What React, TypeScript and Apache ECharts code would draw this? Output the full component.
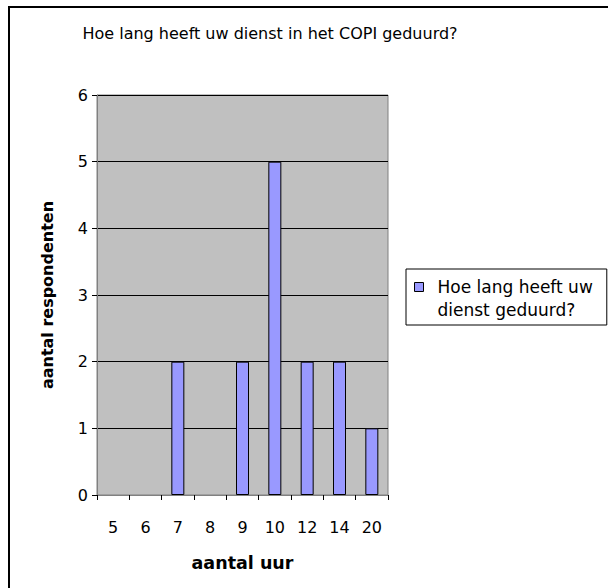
import React, { useEffect, useRef } from "react";
import * as echarts from "echarts";

const categories = ["5", "6", "7", "8", "9", "10", "12", "14", "20"];
const values = [0, 0, 2, 0, 2, 5, 2, 2, 1];
const seriesName = "Hoe lang heeft uw dienst geduurd?";
const titleText = "Hoe lang heeft uw dienst in het COPI geduurd?";
const xName = "aantal uur";
const yName = "aantal respondenten";

export default function App() {
  const ref = useRef<HTMLDivElement>(null);
  useEffect(() => {
    if (!ref.current) return;
    const chart = echarts.init(ref.current, undefined, { renderer: "svg" });
    const font = "DejaVu Sans, Liberation Sans, Arial, sans-serif";
    chart.setOption({
      animation: false,
      backgroundColor: "#fff",
      textStyle: { fontFamily: font },
      title: {
        text: titleText,
        left: 270,
        top: 25,
        padding: 0,
        textAlign: "center",
        textStyle: { fontSize: 16, fontWeight: "normal", color: "#000", fontFamily: font },
      },
      grid: {
        left: 97,
        top: 95,
        width: 291,
        height: 400,
        show: true,
        backgroundColor: "#C0C0C0",
        borderColor: "#808080",
        borderWidth: 1,
      },
      legend: {
        left: 406,
        top: 269,
        orient: "vertical",
        borderColor: "#000",
        borderWidth: 1,
        padding: [6, 14, 3, 8],
        itemWidth: 9,
        itemHeight: 46,
        icon: "path://M0,7L9,7L9,16L0,16Z M0,0L0,0.01 M0,46L0,45.99",
        formatter: () => "Hoe lang heeft uw\ndienst geduurd?",
        textStyle: { fontSize: 17, color: "#000", lineHeight: 23, padding: [0, 0, 0, 9], fontFamily: font },
        data: [{ name: seriesName, itemStyle: { color: "#9999FF", borderColor: "#000", borderWidth: 1 } }],
      },
      xAxis: {
        type: "category",
        data: categories,
        name: xName,
        nameLocation: "middle",
        nameGap: 59,
        nameTextStyle: { fontSize: 17.5, fontWeight: "bold", color: "#000", fontFamily: font },
        axisLine: { lineStyle: { color: "#808080" } },
        axisTick: { show: true, length: 5, lineStyle: { color: "#000" } },
        axisLabel: { fontSize: 16, color: "#000", margin: 24, fontFamily: font },
      },
      yAxis: {
        type: "value",
        min: 0,
        max: 6,
        interval: 1,
        name: yName,
        nameLocation: "middle",
        nameGap: 42,
        nameTextStyle: { fontSize: 16, fontWeight: "bold", color: "#000", fontFamily: font },
        axisLine: { show: true, lineStyle: { color: "#808080" } },
        axisTick: { show: true, length: 5, lineStyle: { color: "#000" } },
        axisLabel: { fontSize: 16, color: "#000", margin: 9, fontFamily: font },
        splitLine: { show: true, lineStyle: { color: "#000", width: 1 } },
      },
      series: [
        {
          type: "bar",
          name: seriesName,
          data: values.map((v) => (v === 0 ? null : v)),
          barWidth: 13,
          itemStyle: { color: "#9999FF", borderColor: "#000", borderWidth: 1 },
        },
      ],
      graphic: [
        { type: "line", shape: { x1: 9, y1: 6, x2: 9, y2: 588 }, style: { stroke: "#000", lineWidth: 2 } },
        { type: "line", shape: { x1: 8, y1: 7, x2: 608, y2: 7 }, style: { stroke: "#000", lineWidth: 2 } },
      ],
    });
    return () => chart.dispose();
  }, []);
  return <div ref={ref} style={{ position: "fixed", left: 0, top: 0, width: 608, height: 588 }} />;
}
